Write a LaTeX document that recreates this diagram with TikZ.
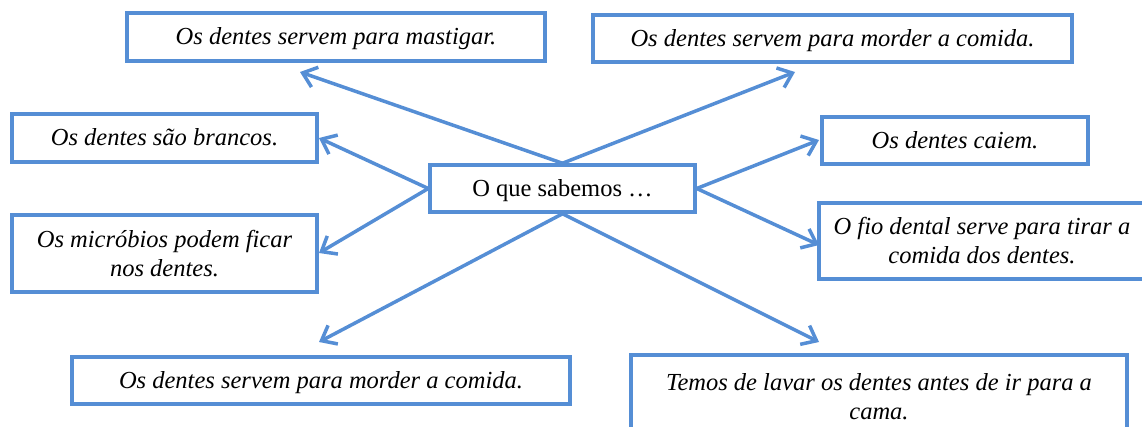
\documentclass[tikz,border=0pt]{standalone}
\usepackage{fontspec}
\setmainfont{Liberation Serif}
\usetikzlibrary{arrows.meta}
\definecolor{boxblue}{RGB}{85,142,213}
\begin{document}
\begin{tikzpicture}[x=1pt,y=-1pt,
  boxbase/.style={draw=boxblue,line width=3.5pt,fill=white,inner sep=0pt,align=center,
     font=\fontsize{24.5}{29}\selectfont\itshape},
  box/.style={boxbase,text height=17.5pt,text depth=2.5pt},
  mbox/.style={boxbase},
  conn/.style={draw=boxblue,line width=3.5pt,line cap=round,line join=round,-{Straight Barb[length=13pt,width=21pt]}}
]
\useasboundingbox (0,0) rectangle (1142,426);
\clip (0,0) rectangle (1142,426);

\node[box,minimum width=418pt,minimum height=48pt] (tl) at (336,37) {Os dentes servem para mastigar.};
\node[box,minimum width=479pt,minimum height=47pt] (tr) at (832.5,38.5) {Os dentes servem para morder a comida.};
\node[box,minimum width=305pt,minimum height=48pt] (l2) at (164.5,138) {Os dentes são brancos.};
\node[box,minimum width=266pt,minimum height=47pt] (r2) at (955,140.5) {Os dentes caiem.};
\node[box,font=\fontsize{24.5}{29}\selectfont,minimum width=265pt,minimum height=47pt] (c) at (562.5,188.5) {O que sabemos …};
\node[mbox,minimum width=305pt,minimum height=77pt] (l3) at (164.5,253.5) {Os micróbios podem ficar\\nos dentes.};
\node[mbox,minimum width=326pt,minimum height=76pt] (r3) at (982,241) {O fio dental serve para tirar a\\comida dos dentes.};
\node[box,minimum width=498pt,minimum height=47pt] (bl) at (321,380.5) {Os dentes servem para morder a comida.};
\node[mbox,minimum width=496pt,minimum height=84pt] (br) at (879,397) {Temos de lavar os dentes antes de ir para a\\cama.};

\coordinate (e1) at (300,72);
\coordinate (e2) at (795,72);
\coordinate (e3) at (319,138);
\coordinate (e4) at (819,140);
\coordinate (e5) at (319,253);
\coordinate (e6) at (819,245);
\coordinate (e7) at (319,342);
\coordinate (e8) at (819,342);

\draw[conn] (c.north) -- (e1);
\draw[conn] (c.north) -- (e2);
\draw[conn] (c.west) -- (e3);
\draw[conn] (c.east) -- (e4);
\draw[conn] (c.west) -- (e5);
\draw[conn] (c.east) -- (e6);
\draw[conn] (c.south) -- (e7);
\draw[conn] (c.south) -- (e8);
\end{tikzpicture}
\end{document}
